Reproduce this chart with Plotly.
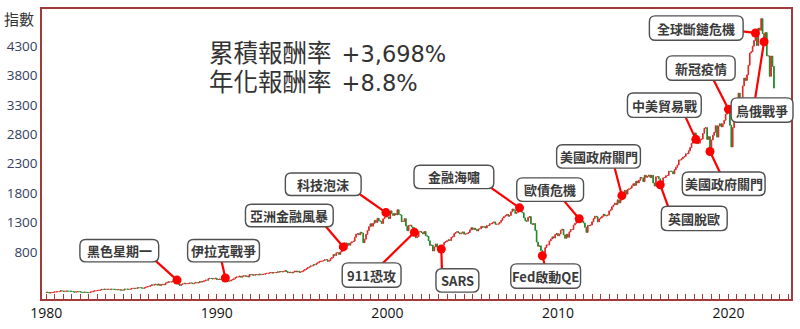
import plotly.graph_objects as go
import pandas as pd

# S&P 500 month-end closes, Dec 1979 .. Sep 2022
month_close = [
    107.94,
    114.16, 113.66, 102.09, 106.29, 111.24, 114.24, 121.67, 122.38, 125.46, 127.47, 140.52, 135.76,
    129.55, 131.27, 136.00, 132.81, 132.59, 131.21, 130.92, 122.79, 116.18, 121.89, 126.35, 122.55,
    120.40, 113.11, 111.96, 116.44, 111.88, 109.61, 107.09, 119.51, 120.42, 133.71, 138.54, 140.64,
    145.30, 148.06, 152.96, 164.42, 162.39, 168.11, 162.56, 164.40, 166.07, 163.55, 166.40, 164.93,
    163.41, 157.06, 159.18, 160.05, 150.55, 153.18, 150.66, 166.68, 166.10, 166.09, 163.58, 167.24,
    179.63, 181.18, 180.66, 179.83, 189.55, 191.85, 190.92, 188.63, 182.08, 189.82, 202.17, 211.28,
    211.78, 226.92, 238.90, 235.52, 247.35, 250.84, 236.12, 252.93, 231.32, 243.98, 249.22, 242.17,
    274.08, 284.20, 291.70, 288.36, 290.10, 304.00, 318.66, 329.80, 321.83, 251.79, 230.30, 247.08,
    257.07, 267.82, 258.89, 261.33, 262.16, 273.50, 272.02, 261.52, 271.91, 278.97, 273.70, 277.72,
    297.47, 288.86, 294.87, 309.64, 320.52, 317.98, 346.08, 351.45, 349.15, 340.36, 345.99, 353.40,
    329.08, 331.89, 339.94, 330.80, 361.23, 358.02, 356.15, 322.56, 306.05, 304.00, 322.22, 330.22,
    343.93, 367.07, 375.22, 375.35, 389.83, 371.16, 387.81, 395.43, 387.86, 392.45, 375.22, 417.09,
    408.79, 412.70, 403.69, 414.95, 415.35, 408.14, 424.21, 414.03, 417.80, 418.68, 431.35, 435.71,
    438.78, 443.38, 451.67, 440.19, 450.19, 450.53, 448.13, 463.56, 458.93, 467.83, 461.79, 466.45,
    481.61, 467.14, 445.77, 450.91, 456.50, 444.27, 458.26, 475.49, 462.69, 472.35, 453.69, 459.27,
    470.42, 487.39, 500.71, 514.71, 533.40, 544.75, 562.06, 561.88, 584.41, 581.50, 605.37, 615.93,
    636.02, 640.43, 645.50, 654.17, 669.12, 670.63, 639.95, 651.99, 687.31, 705.27, 757.02, 740.74,
    786.16, 790.82, 757.12, 801.34, 848.28, 885.14, 954.31, 899.47, 947.28, 914.62, 955.40, 970.43,
    980.28, 1049.34, 1101.75, 1111.75, 1090.82, 1133.84, 1120.67, 957.28, 1017.01, 1098.67, 1163.63, 1229.23,
    1279.64, 1238.33, 1286.37, 1335.18, 1301.84, 1372.71, 1328.72, 1320.41, 1282.71, 1362.93, 1388.91, 1469.25,
    1394.46, 1366.42, 1498.58, 1452.43, 1420.60, 1454.60, 1430.83, 1517.68, 1436.51, 1429.40, 1314.95, 1320.28,
    1366.01, 1239.94, 1160.33, 1249.46, 1255.82, 1224.38, 1211.23, 1133.58, 1040.94, 1059.78, 1139.45, 1148.08,
    1130.20, 1106.73, 1147.39, 1076.92, 1067.14, 989.82, 911.62, 916.07, 815.28, 885.76, 936.31, 879.82,
    855.70, 841.15, 848.18, 916.92, 963.59, 974.50, 990.31, 1008.01, 995.97, 1050.71, 1058.20, 1111.92,
    1131.13, 1144.94, 1126.21, 1107.30, 1120.68, 1140.84, 1101.72, 1104.24, 1114.58, 1130.20, 1173.82, 1211.92,
    1181.27, 1203.60, 1180.59, 1156.85, 1191.50, 1191.33, 1234.18, 1220.33, 1228.81, 1207.01, 1249.48, 1248.29,
    1280.08, 1280.66, 1294.87, 1310.61, 1270.09, 1270.20, 1276.66, 1303.82, 1335.85, 1377.94, 1400.63, 1418.30,
    1438.24, 1406.82, 1420.86, 1482.37, 1530.62, 1503.35, 1455.27, 1473.99, 1526.75, 1549.38, 1481.14, 1468.36,
    1378.55, 1330.63, 1322.70, 1385.59, 1400.38, 1280.00, 1267.38, 1282.83, 1166.36, 968.75, 896.24, 903.25,
    825.88, 735.09, 797.87, 872.81, 919.14, 919.32, 987.48, 1020.62, 1057.08, 1036.19, 1095.63, 1115.10,
    1073.87, 1104.49, 1169.43, 1186.69, 1089.41, 1030.71, 1101.60, 1049.33, 1141.20, 1183.26, 1180.55, 1257.64,
    1286.12, 1327.22, 1325.83, 1363.61, 1345.20, 1320.64, 1292.28, 1218.89, 1131.42, 1253.30, 1246.96, 1257.60,
    1312.41, 1365.68, 1408.47, 1397.91, 1310.33, 1362.16, 1379.32, 1406.58, 1440.67, 1412.16, 1416.18, 1426.19,
    1498.11, 1514.68, 1569.19, 1597.57, 1630.74, 1606.28, 1685.73, 1632.97, 1681.55, 1756.54, 1805.81, 1848.36,
    1782.59, 1859.45, 1872.34, 1883.95, 1923.57, 1960.23, 1930.67, 2003.37, 1972.29, 2018.05, 2067.56, 2058.90,
    1994.99, 2104.50, 2067.89, 2085.51, 2107.39, 2063.11, 2103.84, 1972.18, 1920.03, 2079.36, 2080.41, 2043.94,
    1940.24, 1932.23, 2059.74, 2065.30, 2096.95, 2098.86, 2173.60, 2170.95, 2168.27, 2126.15, 2198.81, 2238.83,
    2278.87, 2363.64, 2362.72, 2384.20, 2411.80, 2423.41, 2470.30, 2471.65, 2519.36, 2575.26, 2647.58, 2673.61,
    2823.81, 2713.83, 2640.87, 2648.05, 2705.27, 2718.37, 2816.29, 2901.52, 2913.98, 2711.74, 2760.17, 2506.85,
    2704.10, 2784.49, 2834.40, 2945.83, 2752.06, 2941.76, 2980.38, 2926.46, 2976.74, 3037.56, 3140.98, 3230.78,
    3225.52, 2954.22, 2584.59, 2912.43, 3044.31, 3100.29, 3271.12, 3500.31, 3363.00, 3269.96, 3621.63, 3756.07,
    3714.24, 3811.15, 3972.89, 4181.17, 4204.11, 4297.50, 4395.26, 4522.68, 4307.54, 4605.38, 4567.00, 4766.18,
    4515.55, 4373.94, 4530.41, 4131.93, 4132.15, 3785.38, 4130.29, 3955.00, 3585.62,
]
first_month = "1979-12-01"

event_labels = ["黑色星期一", "伊拉克戰爭", "亞洲金融風暴", "科技泡沫", "911恐攻", "SARS",
                "金融海嘯", "Fed啟動QE", "歐債危機", "美國政府關門", "英國脫歐", "美國政府關門",
                "中美貿易戰", "新冠疫情", "全球斷鏈危機", "烏俄戰爭"]
event_months = ["1987-09", "1990-07", "1997-06", "1999-12", "2001-08", "2003-03",
                "2007-10", "2009-02", "2011-04", "2013-10", "2016-01", "2018-12",
                "2018-02", "2020-01", "2021-08", "2022-02"]

y_tick_values = [800, 1300, 1800, 2300, 2800, 3300, 3800, 4300]
headline = ["累積報酬率", "+3,698%", "年化報酬率", "+8.8%"]

# ---- candles: open = previous month's close ----
months = pd.date_range(first_month, periods=len(month_close), freq="MS")
dates = months[1:]
opens = month_close[:-1]
closes = month_close[1:]
highs = [max(o, c) for o, c in zip(opens, closes)]
lows = [min(o, c) for o, c in zip(opens, closes)]

close_by_month = {d.strftime("%Y-%m"): c for d, c in zip(dates, closes)}
event_dates = [pd.Timestamp(m + "-01") for m in event_months]
event_values = [close_by_month[m] for m in event_months]

# ---- page geometry (pixels) ----
W, H = 800, 329
PL, PR, PT, PB = 42, 793, 7, 304
X_RANGE = (pd.Timestamp("1979-10-01"), pd.Timestamp("2023-09-01"))
Y_RANGE = (0, 4930)
FRAME = "#a33a3a"
CJK = "Noto Sans CJK TC, Noto Sans, sans-serif"
LATIN = "Open Sans"
WIDE = "DejaVu Sans"


def to_paper(px, py):
    return (px - PL) / (PR - PL), (PB - py) / (PB - PT)


def to_data(px, py):
    fx, fy = to_paper(px, py)
    return X_RANGE[0] + fx * (X_RANGE[1] - X_RANGE[0]), Y_RANGE[0] + fy * (Y_RANGE[1] - Y_RANGE[0])


# callout boxes: left, top, right, bottom, connector start x, y
boxes = [
    (80, 243, 159, 266, 156, 265),
    (188, 243, 260, 266, 222, 265),
    (246, 207, 334, 230, 326, 229),
    (286, 175, 362, 198, 361, 197),
    (343, 267, 402, 292, 383, 268),
    (437, 273, 480, 297, 443, 274),
    (415, 167, 495, 191, 492, 190),
    (512, 268, 582, 293, 546, 269),
    (518, 180, 585, 204, 565, 203),
    (558, 146, 642, 170, 616, 169),
    (663, 209, 729, 234, 670, 210),
    (684, 174, 767, 198, 722, 175),
    (629, 93, 703, 118, 687, 117),
    (668, 55, 737, 80, 715, 79),
    (651, 14, 745, 39, 744, 30),
    (733, 98, 795, 123, 757, 99),
]


def rounded_path(x0, y0, x1, y1, r=6):
    pts = [
        ("M", [(x0 + r, y0)]), ("L", [(x1 - r, y0)]), ("Q", [(x1, y0), (x1, y0 + r)]),
        ("L", [(x1, y1 - r)]), ("Q", [(x1, y1), (x1 - r, y1)]),
        ("L", [(x0 + r, y1)]), ("Q", [(x0, y1), (x0, y1 - r)]),
        ("L", [(x0, y0 + r)]), ("Q", [(x0, y0), (x0 + r, y0)]),
    ]
    out = []
    for cmd, ps in pts:
        coords = " ".join("%.5f,%.5f" % to_paper(px, py) for px, py in ps)
        out.append(cmd + coords)
    return " ".join(out) + " Z"


fig = go.Figure()

fig.add_trace(go.Candlestick(
    x=dates, open=opens, high=highs, low=lows, close=closes,
    increasing=dict(line=dict(color="#e02828", width=1), fillcolor="#e02828"),
    decreasing=dict(line=dict(color="#1f8a2a", width=1), fillcolor="#1f8a2a"),
    whiskerwidth=0, showlegend=False, hoverinfo="skip",
))

# red connectors from each callout to its point on the index
cx_list, cy_list = [], []
for d, v, b in zip(event_dates, event_values, boxes):
    tx, ty = to_data(b[4], b[5])
    cx_list += [tx, d, None]
    cy_list += [ty, v, None]
fig.add_trace(go.Scatter(
    x=cx_list, y=cy_list, mode="lines",
    line=dict(color="#ff0000", width=2.2),
    showlegend=False, hoverinfo="skip",
))

fig.add_trace(go.Scatter(
    x=event_dates, y=event_values, mode="markers",
    marker=dict(color="#ff0000", size=9, line=dict(width=0)),
    showlegend=False, hoverinfo="skip",
))

shapes = []
annotations = []
for label, (bx0, by0, bx1, by1, _, _) in zip(event_labels, boxes):
    shapes.append(dict(
        type="path", xref="paper", yref="paper", layer="above",
        path=rounded_path(bx0, by0, bx1, by1),
        line=dict(color="#505050", width=1.4), fillcolor="white",
    ))
    cx, cy = to_paper((bx0 + bx1) / 2, (by0 + by1) / 2)
    annotations.append(dict(
        x=cx, y=cy, xref="paper", yref="paper", xanchor="center", yanchor="middle",
        text=label, showarrow=False,
        font=dict(family=CJK, size=13, color="#3a3a3a", weight="bold"),
    ))

# two-line headline: CJK words slightly larger, figures in a wider face
head_text = "<br>".join(
    '<span style="font-size:24.5px">%s</span>&nbsp;&nbsp;'
    '<span style="font-family:%s;font-size:22.5px">%s</span>' % (headline[i], WIDE, headline[i + 1])
    for i in (0, 2)
)
hx, hy = to_paper(207, 65)
annotations.append(dict(
    x=hx, y=hy, xref="paper", yref="paper", xanchor="left", yanchor="middle",
    align="left", text=head_text, showarrow=False,
    font=dict(family=CJK, size=22.5, color="#333333"),
))

ix, iy = to_paper(36, 17)
annotations.append(dict(
    x=ix, y=iy, xref="paper", yref="paper", xanchor="right", yanchor="middle",
    text="指數", showarrow=False,
    font=dict(family=CJK, size=15, color="#333333"),
))

fig.update_layout(
    width=W, height=H,
    margin=dict(l=PL, r=W - PR, t=PT, b=H - PB),
    paper_bgcolor="white", plot_bgcolor="white",
    shapes=shapes, annotations=annotations,
    showlegend=False,
    xaxis=dict(
        type="date",
        range=[X_RANGE[0], X_RANGE[1]],
        rangeslider=dict(visible=False),
        showgrid=False, zeroline=False,
        showline=True, mirror=True, linecolor=FRAME, linewidth=1.5,
        tick0="1980-01-01", dtick="M120", tickformat="%Y",
        ticks="inside", ticklen=5, tickcolor=FRAME, tickwidth=1,
        minor=dict(dtick="M6", tick0="1980-01-01", ticks="inside", ticklen=5,
                   tickcolor=FRAME, tickwidth=1, showgrid=False),
        tickfont=dict(family=LATIN, size=14, color="#111111"),
    ),
    yaxis=dict(
        range=list(Y_RANGE),
        tickvals=y_tick_values,
        showgrid=False, zeroline=False,
        showline=True, mirror=True, linecolor=FRAME, linewidth=1.5,
        ticks="", tickfont=dict(family=LATIN, size=13.5, color="#34405e"),
    ),
)

fig.write_html("out.html")
